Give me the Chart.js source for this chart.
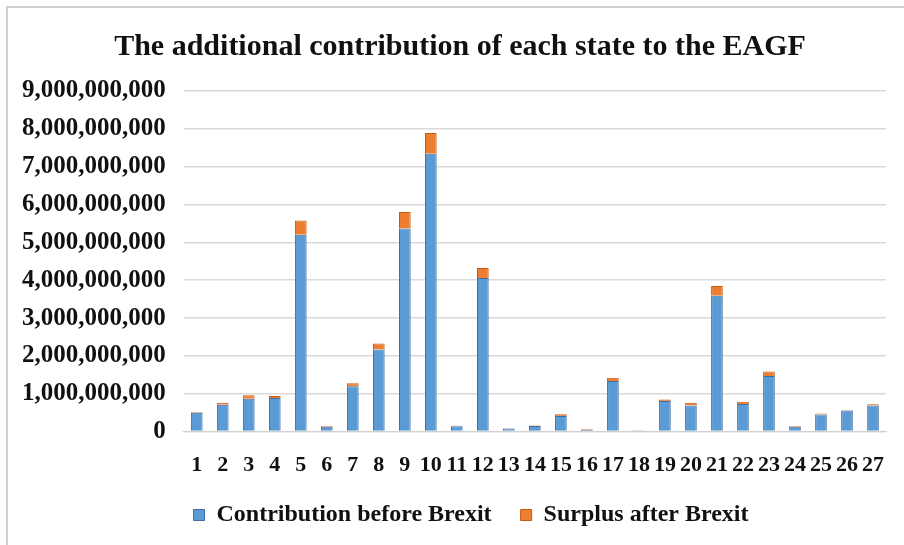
<!DOCTYPE html>
<html>
<head>
<meta charset="utf-8">
<script src="https://cdn.jsdelivr.net/npm/chart.js@4.4.0/dist/chart.umd.min.js"></script>
<style>
  html, body { margin: 0; padding: 0; background: #fff; }
  #wrap { position: relative; width: 904px; height: 545px; }
  #frame { position: absolute; left: 6px; top: 6px; right: 0; bottom: 0; border-left: 2px solid #d0d0d0; border-top: 2px solid #d0d0d0; pointer-events: none; }
</style>
</head>
<body>
<div id="wrap">
  <canvas id="eagfChart" width="904" height="545"></canvas>
  <div id="frame"></div>
</div>
<script>
// Member states, numbered 1..27
const states = ['1','2','3','4','5','6','7','8','9','10','11','12','13','14','15','16','17','18','19','20','21','22','23','24','25','26','27'];

// Contribution before Brexit (EUR)
const beforeBrexit = [
    500000000, 710000000, 870000000, 890000000, 5200000000, 130000000, 1200000000, 2170000000, 5370000000,
    7340000000, 140000000, 4060000000, 80000000, 150000000, 410000000, 40000000, 1340000000, 20000000,
    810000000, 690000000, 3590000000, 730000000, 1470000000, 130000000, 450000000, 560000000, 690000000
];

// Surplus after Brexit (EUR)
const surplusBrexit = [
    20000000, 50000000, 90000000, 50000000, 380000000, 25000000, 80000000, 160000000, 430000000,
    550000000, 15000000, 260000000, 10000000, 10000000, 50000000, 20000000, 80000000, 15000000,
    40000000, 70000000, 260000000, 60000000, 120000000, 20000000, 30000000, 10000000, 30000000
];

const yTicks = [0, 1e9, 2e9, 3e9, 4e9, 5e9, 6e9, 7e9, 8e9, 9e9];

const serif = '"Liberation Serif", "Times New Roman", serif';

// nudge title and legend to the right, like the original
const blockShift = {
    id: 'blockShift',
    beforeDraw(chart) {
        if (chart._shifted) return;
        if (chart.titleBlock) {
            chart.titleBlock.left += 15;
            chart.titleBlock.right += 15;
        }
        if (chart.legend) {
            chart.legend.left += 26;
            chart.legend.right += 26;
        }
        chart._shifted = true;
    }
};

const ctx = document.getElementById('eagfChart').getContext('2d');
new Chart(ctx, {
    type: 'bar',
    data: {
        labels: states,
        datasets: [{
            label: 'Contribution before Brexit',
            data: beforeBrexit,
            backgroundColor: '#5b9bd5',
            borderColor: '#3f6fa0',
            borderWidth: 1
        }, {
            label: 'Surplus after Brexit',
            data: surplusBrexit,
            backgroundColor: '#ed7d31',
            borderColor: '#c55a11',
            borderWidth: 1
        }]
    },
    plugins: [blockShift],
    options: {
        responsive: false,
        animation: false,
        layout: { padding: { left: 4, right: 18, top: 0, bottom: 8 } },
        datasets: { bar: { categoryPercentage: 1, barPercentage: 0.45 } },
        plugins: {
            title: {
                display: true,
                text: 'The additional contribution of each state to the EAGF',
                color: '#111',
                font: { family: serif, size: 30, weight: 'bold' },
                padding: { top: 29, bottom: 26 }
            },
            legend: {
                position: 'bottom',
                labels: {
                    color: '#111',
                    font: { family: serif, size: 24, weight: 'bold' },
                    boxWidth: 11,
                    boxHeight: 11,
                    padding: 11,
                    // wider gap between the two entries than the vertical padding
                    generateLabels: chart => Chart.defaults.plugins.legend.labels.generateLabels(chart)
                        .map((item, i) => i === 0 ? { ...item, text: item.text + '   ' } : item)
                }
            },
            tooltip: { enabled: false }
        },
        scales: {
            x: {
                stacked: true,
                grid: { display: false },
                border: { color: '#d0d0d0' },
                ticks: {
                    color: '#111',
                    autoSkip: false,
                    maxRotation: 0,
                    padding: 13,
                    font: { family: serif, size: 22, weight: 'bold' }
                }
            },
            y: {
                stacked: true,
                min: 0,
                max: 9e9,
                afterBuildTicks: axis => { axis.ticks = yTicks.map(v => ({ value: v })); },
                grid: { color: '#d9d9d9', lineWidth: 1.5, drawTicks: false },
                border: { display: false },
                ticks: {
                    color: '#111',
                    padding: 18,
                    font: { family: serif, size: 25, weight: 'bold' },
                    callback: v => v.toLocaleString('en-US')
                }
            }
        }
    }
});
</script>
</body>
</html>
